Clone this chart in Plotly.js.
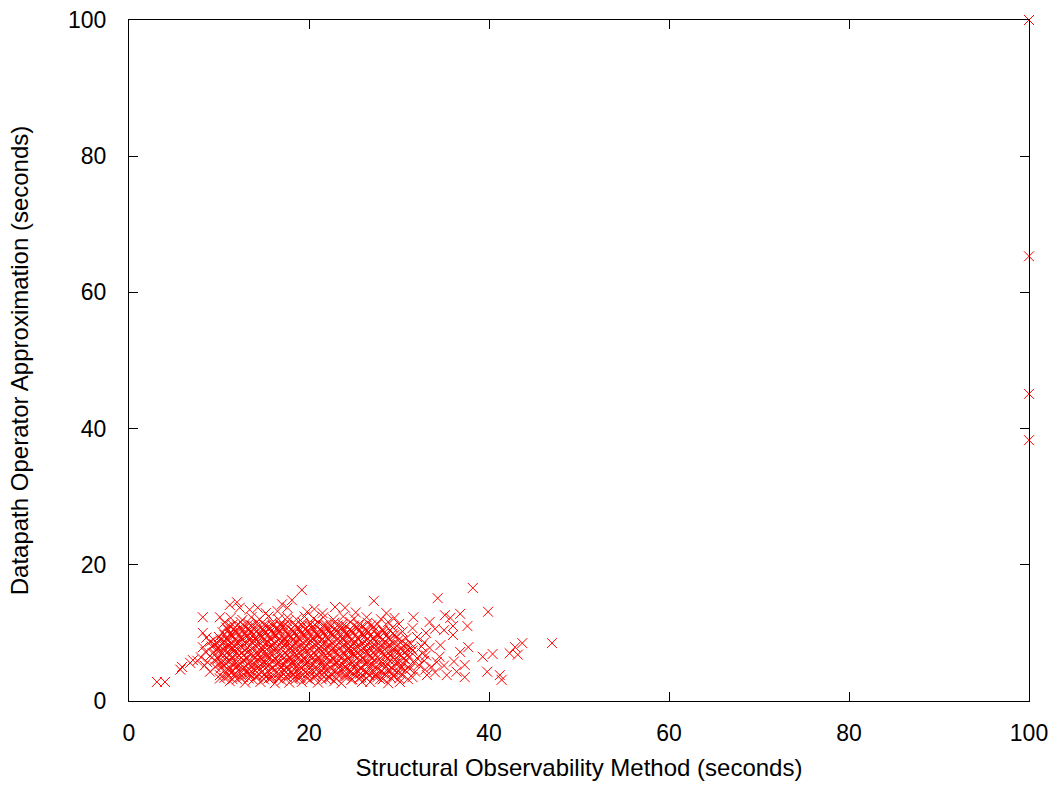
<!DOCTYPE html>
<html>
<head>
<meta charset="utf-8">
<script src="https://cdn.plot.ly/plotly-3.0.1.min.js"></script>
<style>html,body{margin:0;padding:0;background:#fff;}#chart{width:1053px;height:787px;}</style>
</head>
<body>
<div id="chart"></div>
<script>
// Runtime pairs [structural observability (s), datapath operator approximation (s)]
const rowBottom = [[3.1,2.8],[4.0,2.8],[10.1,3.3],[11.2,2.9],[12.0,3.2],[12.9,2.7],[13.8,3.1],[14.6,2.8],[15.5,3.3],[16.2,2.6],[17.0,3.0],[17.8,2.7],[18.5,3.2],[19.2,2.8],[20.1,3.1],[21.0,2.7],[21.9,3.2],[22.8,2.9],[23.6,2.6],[24.7,3.1],[25.9,2.8],[26.8,2.8],[27.9,3.2],[28.8,2.6],[30.1,2.8],[31.0,3.2],
  [10.1,3.8],[11.0,3.6],[11.8,4.0],[12.7,3.5],[13.5,3.9],[14.3,3.6],[15.1,4.0],[15.9,3.5],[16.8,3.8],[17.6,3.4],[18.3,3.9],[19.0,3.6],[19.8,4.0],[20.7,3.5],[21.5,3.8],[22.3,3.4],[23.2,3.9],[24.1,3.6],[25.0,3.9],[25.8,3.5],[26.7,3.8],[27.6,3.5],[28.5,3.9],[29.4,3.6],[30.3,3.9],[31.5,3.5],[33.1,3.8],[35.3,3.8],[37.3,3.5],[41.2,3.8],[41.4,3.1]];
const rowLow = [[5.7,4.6],[9.0,4.3],[10.6,4.5],[11.4,4.2],[12.2,4.6],[13.0,4.3],[13.9,4.7],[14.7,4.2],[15.5,4.5],[16.3,4.1],[17.2,4.6],[18.0,4.3],[18.8,4.7],[19.6,4.2],[20.4,4.5],[21.2,4.1],[22.0,4.6],[22.9,4.3],[23.7,4.7],[24.6,4.2],[25.4,4.5],[26.3,4.2],[27.1,4.6],[28.0,4.3],[28.9,4.6],[29.8,4.2],[30.7,4.5],[31.8,4.3],[32.9,4.6],[34.0,4.2],[36.4,4.3],[39.8,4.3],
  [5.9,5.0],[8.4,5.2],[9.6,5.0],[10.4,5.3],[11.2,4.9],[12.0,5.2],[12.8,4.9],[13.6,5.3],[14.4,5.0],[15.2,5.4],[16.0,4.9],[16.8,5.2],[17.6,5.0],[18.4,5.4],[19.2,4.9],[20.0,5.2],[20.8,5.0],[21.6,5.3],[22.4,4.9],[23.3,5.2],[24.1,5.0],[25.0,5.3],[25.8,4.9],[26.6,5.2],[27.5,5.0],[28.3,5.4],[29.2,4.9],[30.1,5.2],[31.0,5.0],[32.2,5.3],[33.6,5.0],[35.0,5.2],[37.3,5.3],
  [6.8,5.6],[7.6,5.9],[8.7,5.7],[9.5,6.0],[10.3,5.6],[11.1,5.9],[11.9,5.6],[12.7,6.0],[13.5,5.7],[14.3,6.1],[15.1,5.6],[15.9,5.9],[16.7,5.7],[17.5,6.0],[18.3,5.6],[19.1,5.9],[19.9,5.7],[20.7,6.0],[21.5,5.6],[22.3,5.9],[23.1,5.7],[24.0,6.0],[24.8,5.6],[25.7,5.9],[26.5,5.7],[27.3,6.0],[28.2,5.6],[29.0,5.9],[29.9,5.7],[30.8,6.0],[31.7,5.6],[32.8,5.9],[34.2,5.7],[36.1,5.8]];
const rowMid = [[7.1,6.0],[8.0,6.4],[9.0,6.6],[9.8,6.3],[10.6,6.7],[11.4,6.4],[12.2,6.7],[13.0,6.3],[13.8,6.6],[14.6,6.4],[15.4,6.8],[16.2,6.3],[17.0,6.6],[17.8,6.4],[18.6,6.8],[19.4,6.3],[20.2,6.6],[21.0,6.4],[21.8,6.7],[22.6,6.3],[23.4,6.6],[24.3,6.4],[25.1,6.8],[25.9,6.3],[26.8,6.6],[27.6,6.4],[28.5,6.7],[29.3,6.3],[30.2,6.6],[31.1,6.4],[32.0,6.3],[33.0,6.7],[34.5,6.5],[39.3,6.5],[40.4,6.9],[42.3,7.0],[43.2,6.8],
  [8.5,7.2],[9.3,7.0],[10.1,7.4],[10.9,7.1],[11.7,7.4],[12.5,7.0],[13.3,7.3],[14.1,7.1],[14.9,7.5],[15.7,7.0],[16.5,7.3],[17.3,7.1],[18.1,7.4],[18.9,7.0],[19.7,7.3],[20.5,7.1],[21.3,7.5],[22.1,7.0],[22.9,7.3],[23.8,7.1],[24.6,7.4],[25.4,7.0],[26.3,7.3],[27.1,7.1],[27.9,7.4],[28.8,7.0],[29.7,7.3],[30.6,7.1],[31.5,7.4],[32.6,7.0],[36.8,7.2],
  [8.2,7.9],[9.2,8.0],[10.0,7.8],[10.8,8.1],[11.6,7.7],[12.4,8.0],[13.2,7.8],[14.0,8.2],[14.8,7.7],[15.6,8.0],[16.4,7.8],[17.2,8.2],[18.0,7.7],[18.8,8.0],[19.6,7.8],[20.4,8.1],[21.2,7.7],[22.0,8.0],[22.8,7.8],[23.7,8.1],[24.5,7.7],[25.3,8.0],[26.2,7.8],[27.0,8.1],[27.9,7.7],[28.7,8.0],[29.6,7.8],[30.5,8.1],[31.4,7.7],[32.5,8.0],[33.4,7.8],[34.6,8.2],[37.7,7.9],[42.9,7.9]];
const rowHigh = [[9.0,8.7],[9.8,8.5],[10.6,8.8],[11.4,8.4],[12.2,8.7],[13.0,8.5],[13.8,8.9],[14.6,8.4],[15.4,8.7],[16.2,8.5],[17.0,8.8],[17.8,8.4],[18.6,8.7],[19.4,8.5],[20.2,8.9],[21.0,8.4],[21.8,8.7],[22.6,8.5],[23.5,8.8],[24.3,8.4],[25.1,8.7],[26.0,8.5],[26.8,8.8],[27.7,8.4],[28.5,8.7],[29.4,8.5],[30.3,8.8],[31.3,8.4],[32.8,8.6],[43.7,8.5],[47.0,8.5],
  [8.6,9.3],[10.0,9.4],[10.8,9.1],[11.6,9.5],[12.4,9.2],[13.2,9.5],[14.0,9.1],[14.8,9.4],[15.6,9.2],[16.4,9.6],[17.2,9.1],[18.0,9.4],[18.8,9.2],[19.6,9.5],[20.4,9.1],[21.2,9.4],[22.0,9.2],[22.9,9.5],[23.7,9.1],[24.5,9.4],[25.4,9.2],[26.2,9.5],[27.1,9.1],[27.9,9.4],[28.8,9.2],[29.7,9.5],[30.8,9.2],[32.0,9.4],[36.0,9.7],
  [8.2,10.0],[10.4,10.1],[11.2,9.8],[12.0,10.2],[12.8,9.9],[13.6,10.2],[14.4,9.8],[15.2,10.1],[16.0,9.9],[16.8,10.3],[17.6,9.8],[18.4,10.1],[19.2,9.9],[20.0,10.2],[20.8,9.8],[21.6,10.1],[22.4,9.9],[23.3,10.2],[24.1,9.8],[24.9,10.1],[25.8,9.9],[26.6,10.2],[27.5,9.8],[28.4,10.1],[29.3,9.9],[30.4,10.2],[33.0,10.0],[35.0,10.4]];
const rowTop = [[10.8,10.8],[11.6,10.5],[12.4,10.9],[13.2,10.6],[14.0,10.9],[14.8,10.5],[15.6,10.8],[16.4,10.6],[17.2,11.0],[18.0,10.5],[18.8,10.8],[19.6,10.6],[20.4,10.9],[21.2,10.5],[22.0,10.8],[22.8,10.6],[23.7,10.9],[24.5,10.5],[25.4,10.8],[26.3,10.6],[27.2,10.9],[28.2,10.5],[29.3,10.8],[31.5,10.7],[34.0,10.6],[36.0,11.0],[37.6,11.0],
  [10.6,11.5],[11.5,11.2],[12.4,11.6],[13.3,11.3],[14.2,11.6],[15.0,11.2],[15.9,11.5],[16.8,11.3],[17.6,11.7],[18.5,11.2],[19.3,11.5],[20.2,11.3],[21.0,11.6],[21.9,11.2],[22.8,11.5],[23.7,11.3],[24.6,11.6],[25.5,11.2],[26.5,11.5],[27.6,11.3],[28.8,11.6],[30.0,11.3],[33.4,11.6],[35.7,12.2],
  [8.2,12.3],[10.1,12.3],[11.3,12.2],[12.6,11.9],[13.6,12.3],[14.5,12.0],[15.5,12.4],[16.6,12.0],[17.6,12.3],[18.6,12.0],[19.5,12.4],[20.5,12.1],[21.6,12.3],[22.7,12.0],[23.8,12.4],[25.0,12.1],[26.4,12.3],[28.0,12.0],[29.5,12.2],[31.6,12.3],[35.1,12.6]];
const rowSparse = [[11.2,14.1],[12.0,14.5],[12.3,13.7],[13.4,13.4],[14.3,13.7],[15.2,12.9],[16.5,13.2],[17.0,14.2],[17.6,13.7],[18.1,14.8],[19.2,16.3],[19.8,13.1],[20.6,13.5],[21.5,12.9],[22.9,13.8],[24.0,13.7],[25.2,13.0],[27.2,14.7],[28.6,12.9],[34.3,15.1],[36.8,12.8],[38.2,16.6],[39.9,13.1]];
const coreA = [[10.6,3.4],[11.5,3.2],[12.4,3.5],[13.3,3.3],[14.1,3.6],[15.0,3.2],[15.8,3.4],[16.6,3.3],[17.4,3.6],[18.2,3.2],[19.0,3.4],[19.8,3.3],[20.6,3.6],[21.4,3.2],[22.2,3.5],[23.0,3.3],[23.9,3.6],[24.8,3.2],[25.6,3.4],[26.4,3.3],[27.3,3.6],[28.2,3.2],[29.1,3.4],[30.0,3.3],
  [10.9,4.1],[11.7,3.9],[12.5,4.2],[13.3,4.0],[14.2,4.2],[15.0,3.8],[15.8,4.1],[16.6,4.0],[17.4,4.2],[18.2,3.9],[19.0,4.1],[20.0,4.2],[20.8,3.9],[21.6,4.2],[22.4,4.0],[23.2,4.2],[24.0,3.9],[24.9,4.1],[25.7,4.0],[26.5,4.2],[27.4,3.9],[28.3,4.1],[29.2,4.0],[30.1,4.2],
  [10.2,4.8],[11.0,4.6],[11.8,4.9],[12.6,4.7],[13.4,4.6],[14.3,4.8],[15.1,4.7],[15.9,4.8],[16.7,4.6],[17.5,4.8],[18.4,4.6],[19.2,4.8],[20.0,4.7],[20.8,4.6],[21.6,4.8],[22.5,4.7],[23.3,4.8],[24.1,4.6],[25.0,4.8],[25.8,4.7],[26.7,4.8],[27.5,4.6],[28.4,4.8],[29.3,4.7],[30.2,4.8],[31.2,4.7],
  [10.0,5.5],[10.8,5.4],[11.6,5.6],[12.4,5.4],[13.2,5.5],[14.0,5.4],[14.8,5.6],[15.6,5.4],[16.4,5.5],[17.2,5.4],[18.0,5.6],[18.8,5.4],[19.6,5.5],[20.4,5.4],[21.2,5.6],[22.0,5.4],[22.8,5.5],[23.7,5.4],[24.5,5.6],[25.3,5.4],[26.2,5.5],[27.0,5.4],[27.9,5.6],[28.7,5.4],[29.6,5.5],[30.5,5.4]];
const coreB = [[9.9,6.2],[10.7,6.1],[11.5,6.2],[12.3,6.1],[13.1,6.2],[13.9,6.2],[14.7,6.1],[15.5,6.2],[16.3,6.1],[17.1,6.2],[17.9,6.1],[18.7,6.2],[19.5,6.1],[20.3,6.2],[21.1,6.1],[21.9,6.2],[22.7,6.1],[23.6,6.2],[24.4,6.1],[25.3,6.2],[26.1,6.1],[27.0,6.2],[27.8,6.1],[28.7,6.2],[29.6,6.1],[30.5,6.2],
  [9.6,6.9],[10.4,7.0],[11.2,6.9],[12.0,7.0],[12.8,6.8],[13.6,6.9],[14.4,7.0],[15.2,6.9],[16.0,7.0],[16.8,6.9],[17.6,6.8],[18.4,7.0],[19.2,6.9],[20.0,7.0],[20.8,6.8],[21.6,7.0],[22.4,6.9],[23.2,6.8],[24.0,7.0],[24.9,6.9],[25.7,6.8],[26.6,7.0],[27.4,6.9],[28.3,6.8],[29.2,7.0],[30.1,6.9],[31.0,6.8],
  [9.7,7.6],[10.5,7.5],[11.3,7.7],[12.1,7.6],[12.9,7.5],[13.7,7.6],[14.5,7.5],[15.3,7.6],[16.1,7.5],[16.9,7.6],[17.7,7.5],[18.5,7.6],[19.3,7.5],[20.1,7.6],[20.9,7.5],[21.7,7.6],[22.5,7.5],[23.3,7.6],[24.2,7.5],[25.0,7.6],[25.8,7.5],[26.7,7.6],[27.5,7.5],[28.4,7.6],[29.3,7.5],[30.2,7.6],[31.0,7.5],
  [9.5,8.3],[10.3,8.4],[11.1,8.2],[11.9,8.3],[12.7,8.4],[13.5,8.2],[14.3,8.3],[15.1,8.4],[15.9,8.2],[16.7,8.3],[17.5,8.4],[18.3,8.2],[19.1,8.3],[19.9,8.4],[20.7,8.2],[21.5,8.3],[22.3,8.2],[23.1,8.3],[23.9,8.2],[24.8,8.3],[25.6,8.2],[26.5,8.3],[27.3,8.2],[28.1,8.3],[29.0,8.2],[29.9,8.3],[30.9,8.2]];
const coreC = [[9.4,9.0],[10.2,8.9],[11.0,9.0],[11.8,8.9],[12.6,9.0],[13.4,8.9],[14.2,9.0],[15.0,8.9],[15.8,9.0],[16.6,8.9],[17.4,9.0],[18.2,8.9],[19.0,9.0],[19.8,8.9],[20.6,9.0],[21.4,8.9],[22.2,9.0],[23.1,8.9],[23.9,9.0],[24.7,8.9],[25.5,9.0],[26.4,8.9],[27.3,9.0],[28.1,8.9],[29.0,9.0],[29.9,8.9],
  [10.6,9.7],[11.4,9.6],[12.2,9.7],[13.0,9.6],[13.8,9.7],[14.6,9.6],[15.4,9.7],[16.2,9.7],[17.0,9.6],[17.8,9.7],[18.6,9.6],[19.4,9.7],[20.2,9.6],[21.0,9.7],[21.8,9.6],[22.6,9.7],[23.5,9.6],[24.3,9.7],[25.1,9.6],[26.0,9.7],[26.8,9.6],[27.7,9.7],[28.6,9.6],[29.5,9.7],
  [11.0,10.4],[11.8,10.3],[12.6,10.4],[13.4,10.5],[14.2,10.3],[15.0,10.4],[15.8,10.3],[16.6,10.5],[17.4,10.4],[18.2,10.3],[19.0,10.4],[19.8,10.3],[20.6,10.4],[21.4,10.3],[22.2,10.4],[23.0,10.3],[23.9,10.4],[24.7,10.3],[25.6,10.4],[26.4,10.3],[27.3,10.4],[28.2,10.3],[29.0,10.4],
  [11.2,11.0],[12.0,11.1],[12.8,11.0],[13.6,11.1],[14.4,11.0],[15.2,11.1],[16.0,11.0],[16.8,11.1],[17.6,11.0],[18.4,11.1],[19.2,11.0],[20.0,11.1],[20.8,11.0],[21.6,11.1],[22.4,11.0],[23.2,11.1],[24.1,11.0],[25.0,11.1],[25.9,11.0],[26.9,11.1]];
const timeoutX = [100, 100, 100, 100];
const timeoutY = [100, 65.3, 45.1, 38.3];

const all = [].concat(rowBottom, rowLow, rowMid, rowHigh, rowTop, rowSparse, coreA, coreB, coreC);
const xs = all.map(p => p[0]).concat(timeoutX);
const ys = all.map(p => p[1]).concat(timeoutY);

const tickFont = {family: 'Liberation Sans, Arial, sans-serif', size: 23, color: '#000'};
const titleFont = {family: 'Liberation Sans, Arial, sans-serif', size: 24, color: '#000'};
const axisBase = {
  range: [0, 100], tickvals: [0, 20, 40, 60, 80, 100], ticktext: ['0','20','40','60','80','100'],
  ticks: 'inside', ticklen: 9, tickwidth: 1, tickcolor: '#000',
  showline: true, linecolor: '#000', linewidth: 1, mirror: 'ticks',
  showgrid: false, zeroline: false, tickfont: tickFont, fixedrange: true
};

Plotly.newPlot('chart', [{
  type: 'scatter', mode: 'markers', x: xs, y: ys, cliponaxis: false,
  marker: {symbol: 'x-thin', size: 10, color: '#ff0000', line: {color: '#ff0000', width: 1}},
  hoverinfo: 'x+y'
}], {
  width: 1053, height: 787,
  margin: {l: 129, r: 24, t: 20, b: 86},
  paper_bgcolor: '#fff', plot_bgcolor: '#fff',
  showlegend: false,
  font: tickFont,
  xaxis: Object.assign({}, axisBase, {ticklabelstandoff: 11, title: {text: 'Structural Observability Method (seconds)', font: titleFont, standoff: 14}}),
  yaxis: Object.assign({}, axisBase, {ticklabelstandoff: 17, title: {text: 'Datapath Operator Approximation (seconds)', font: titleFont, standoff: 32}})
}, {displayModeBar: false, staticPlot: true});
</script>
</body>
</html>
